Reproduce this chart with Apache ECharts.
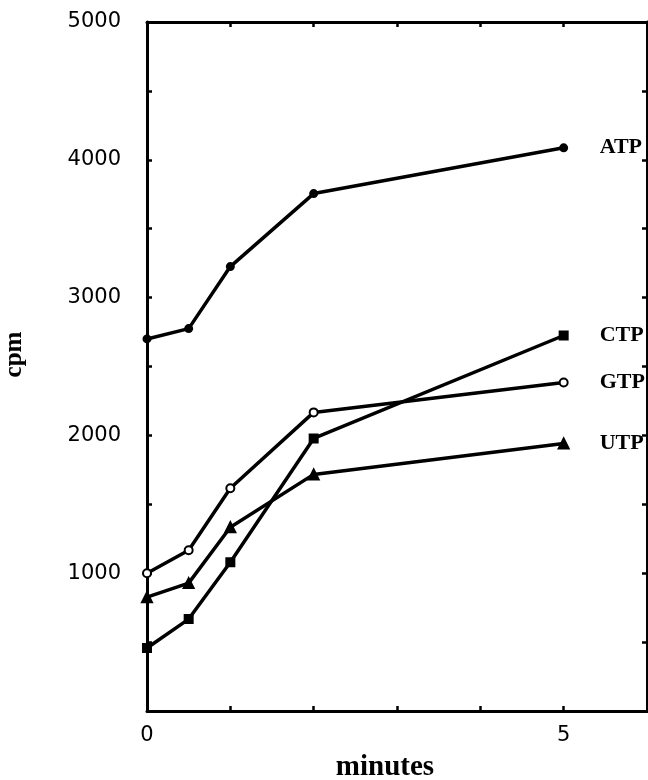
<!DOCTYPE html>
<html>
<head>
<meta charset="utf-8">
<script src="https://cdn.jsdelivr.net/npm/echarts@6/dist/echarts.min.js"></script>
<style>html,body{margin:0;padding:0;background:#fff;}#c{width:648px;height:780px;}</style>
</head>
<body>
<div id="c"></div>
<script>
const minutes = [0, 0.5, 1, 2, 5];
const atp = [2700, 2775, 3225, 3755, 4087];
const ctp = [457, 667, 1080, 1978, 2725];
const gtp = [1000, 1167, 1616, 2167, 2384];
const utp = [826, 928, 1333, 1717, 1942];
const seriesNames = ['ATP', 'CTP', 'GTP', 'UTP'];
const xTickLabels = ['0', '5'];
const yTickLabels = ['1000', '2000', '3000', '4000', '5000'];

const serifFont = '"Liberation Serif", "DejaVu Serif", serif';
const sansFont = '"DejaVu Sans", sans-serif';

function pairs(ys) { return minutes.map((x, i) => [x, ys[i]]); }

const markers = {
  ATP: { symbol: 'circle', size: 7 },
  CTP: { symbol: 'rect', size: 8 },
  GTP: { symbol: 'emptyCircle', size: 8 },
  UTP: { symbol: 'triangle', size: 10 }
};
const values = { ATP: atp, CTP: ctp, GTP: gtp, UTP: utp };

const chart = echarts.init(document.getElementById('c'), null, { renderer: 'canvas' });

const axisLineStyle = { onZero: false, lineStyle: { color: '#000', width: 3 } };
const tickStyle = { inside: true, length: 5, lineStyle: { color: '#000', width: 2.5 } };

chart.setOption({
  backgroundColor: '#fff',
  animation: false,
  grid: { left: 147, right: 1, top: 22, bottom: 69, containLabel: false, outerBoundsMode: 'none' },
  xAxis: [
    {
      type: 'value', min: 0, max: 6, interval: 1, position: 'bottom',
      axisLine: axisLineStyle, axisTick: tickStyle,
      splitLine: { show: false },
      axisLabel: {
        margin: 14, color: '#000', fontFamily: sansFont, fontSize: 21,
        formatter: v => xTickLabels.includes(String(v)) ? String(v) : ''
      },
      name: 'minutes', nameLocation: 'middle', nameGap: 42,
      nameTextStyle: { fontFamily: serifFont, fontSize: 29, fontWeight: 'bold', color: '#000', padding: [0, 24, 0, 0] }
    },
    {
      type: 'value', min: 0, max: 6, interval: 1, position: 'top',
      axisLine: axisLineStyle, axisTick: tickStyle,
      splitLine: { show: false }, axisLabel: { show: false }
    }
  ],
  yAxis: [
    {
      type: 'value', min: 0, max: 5000, interval: 500, position: 'left',
      axisLine: axisLineStyle, axisTick: tickStyle,
      splitLine: { show: false },
      axisLabel: {
        margin: 26, color: '#000', fontFamily: sansFont, fontSize: 21,
        formatter: v => yTickLabels.includes(String(v)) ? String(v) : ''
      },
      name: 'cpm', nameLocation: 'middle', nameGap: 120, nameRotate: 90,
      nameTextStyle: { fontFamily: serifFont, fontSize: 25, fontWeight: 'bold', color: '#000', padding: [0, 0, 0, 24] }
    },
    {
      type: 'value', min: 0, max: 5000, interval: 500, position: 'right',
      axisLine: axisLineStyle, axisTick: tickStyle,
      splitLine: { show: false }, axisLabel: { show: false }
    }
  ],
  series: seriesNames.map(name => ({
    name: name,
    type: 'line',
    data: pairs(values[name]),
    symbol: markers[name].symbol,
    symbolSize: markers[name].size,
    showAllSymbol: true,
    lineStyle: { color: '#000', width: 3.5 },
    itemStyle: { color: '#000', borderColor: '#000', borderWidth: 2 },
    endLabel: {
      show: true, formatter: name, distance: 36,
      color: '#000', fontFamily: serifFont, fontSize: 22, fontWeight: 'bold'
    },
    z: 3
  }))
});
</script>
</body>
</html>
